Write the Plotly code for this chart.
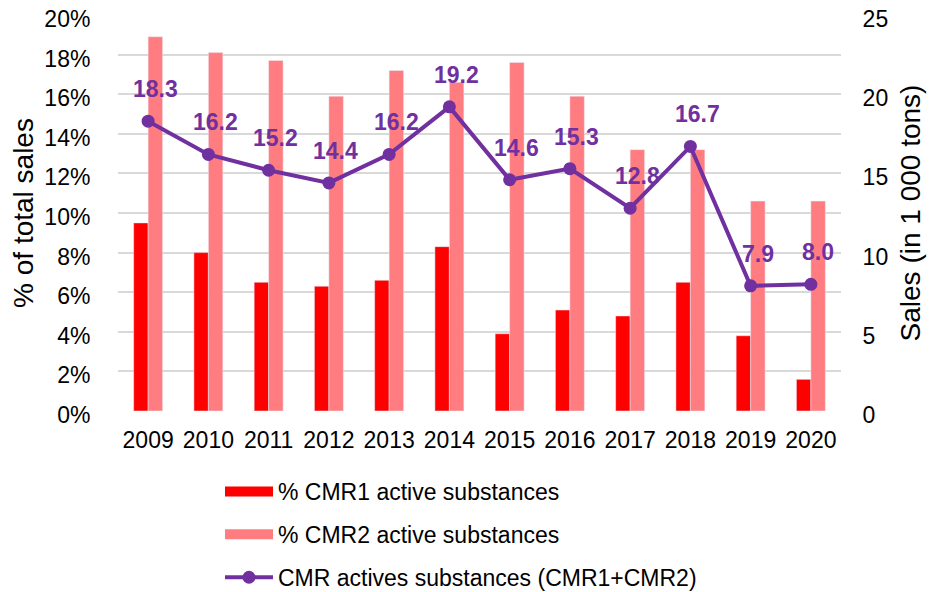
import plotly.graph_objects as go

years = ["2009", "2010", "2011", "2012", "2013", "2014", "2015", "2016", "2017", "2018", "2019", "2020"]
cmr1_pct = [9.5, 8.0, 6.5, 6.3, 6.6, 8.3, 3.9, 5.1, 4.8, 6.5, 3.8, 1.6]
cmr2_pct = [18.9, 18.1, 17.7, 15.9, 17.2, 16.6, 17.6, 15.9, 13.2, 13.2, 10.6, 10.6]
cmr_sales = [18.3, 16.2, 15.2, 14.4, 16.2, 19.2, 14.6, 15.3, 12.8, 16.7, 7.9, 8.0]

FONT = "Liberation Sans, Arial, sans-serif"
PURPLE = "#7030A0"
RED = "#FF0000"
PINK = "#FF7C80"

fig = go.Figure()
fig.add_trace(go.Bar(x=years, y=cmr1_pct, name="% CMR1 active substances",
                     marker_color=RED, showlegend=False))
fig.add_trace(go.Bar(x=years, y=cmr2_pct, name="% CMR2 active substances",
                     marker_color=PINK, showlegend=False))
# legend-only entries drawn as wide swatches
fig.add_trace(go.Scatter(x=[years[0]], y=[None], mode="lines", name="% CMR1 active substances",
                         line=dict(color=RED, width=14), legendgroup="a"))
fig.add_trace(go.Scatter(x=[years[0]], y=[None], mode="lines", name="% CMR2 active substances",
                         line=dict(color=PINK, width=14), legendgroup="b"))
fig.add_trace(go.Scatter(x=years, y=cmr_sales, name="CMR actives substances (CMR1+CMR2)",
                         mode="lines+markers", yaxis="y2", legendgroup="c",
                         line=dict(color=PURPLE, width=4),
                         marker=dict(color=PURPLE, size=13)))

for i, v in enumerate(cmr_sales):
    fig.add_annotation(x=i, y=v, xref="x", yref="y2", text=f"<b>{v:.1f}</b>", showarrow=False,
                       xshift=7, yshift=32, yanchor="middle",
                       font=dict(family=FONT, size=23, color=PURPLE))

fig.update_layout(
    width=938, height=584,
    margin=dict(l=110, r=105, t=7, b=181, autoexpand=False),
    paper_bgcolor="white", plot_bgcolor="white",
    font=dict(family=FONT, size=23, color="black"),
    barmode="group", bargap=0.52, bargroupgap=0,
    xaxis=dict(type="category", categoryorder="array", categoryarray=years,
               range=[-0.5, len(years) - 0.5],
               showgrid=False, showline=False, tickfont=dict(size=23),
               ticks="outside", ticklen=8, tickcolor="rgba(0,0,0,0)"),
    yaxis=dict(range=[0, 20], dtick=2, ticksuffix="%", showgrid=True,
               gridcolor="#D9D9D9", gridwidth=1.5, zeroline=False,
               title=dict(text="% of total sales", standoff=8),
               ticks="outside", ticklen=22, tickcolor="rgba(0,0,0,0)",
               ticklabeloverflow="allow", ticklabelshift=4),
    yaxis2=dict(range=[0, 25], dtick=5, overlaying="y", side="right",
                showgrid=False, zeroline=False,
                ticks="outside", ticklen=16, tickcolor="rgba(0,0,0,0)",
                ticklabeloverflow="allow", ticklabelshift=4,
                title=dict(text="Sales (in 1 000 tons)", standoff=13)),
    legend=dict(x=(212 - 110) / 723, y=(403 - 462) / 396,
                xanchor="left", yanchor="top", orientation="v",
                traceorder="grouped", tracegroupgap=10, itemwidth=48,
                font=dict(size=23)),
)

fig.write_html("out.html")
